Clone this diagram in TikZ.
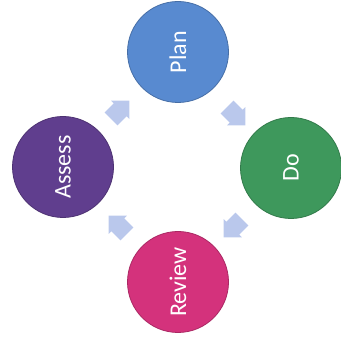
\documentclass[tikz,border=0pt]{standalone}
\usepackage{fontspec}
\setmainfont{Carlito}
\usetikzlibrary{shapes.arrows}
\definecolor{planc}{RGB}{88,138,208}
\definecolor{doc}{RGB}{62,152,92}
\definecolor{assc}{RGB}{96,62,142}
\definecolor{revc}{RGB}{212,50,124}
\definecolor{arrc}{RGB}{186,200,236}
\begin{document}
\begin{tikzpicture}[x=1pt,y=1pt,
  stage/.style={circle,minimum size=101pt,inner sep=0pt,draw=#1!80!black,line width=0.8pt,fill=#1,text=white,font=\fontsize{24}{26}\selectfont,rotate=90},
  cyc/.style={single arrow,fill=arrc,draw=none,minimum width=26pt,single arrow head extend=3pt,minimum height=26pt,inner xsep=4pt,inner ysep=7pt}]
\useasboundingbox (0,0) rectangle (340,342);
\node[stage=planc] (plan) at (178,290) {Plan};
\node[stage=doc] (do) at (291,174) {Do};
\node[stage=revc] (rev) at (178,60) {Review};
\node[stage=assc] (ass) at (63,175) {Assess};
\node[cyc,rotate=-45] (a1) at (233,229) {};
\node[cyc,rotate=-135] (a2) at (236,117) {};
\node[cyc,rotate=135] (a3) at (121,114) {};
\node[cyc,rotate=45] (a4) at (117,229) {};
\end{tikzpicture}
\end{document}
